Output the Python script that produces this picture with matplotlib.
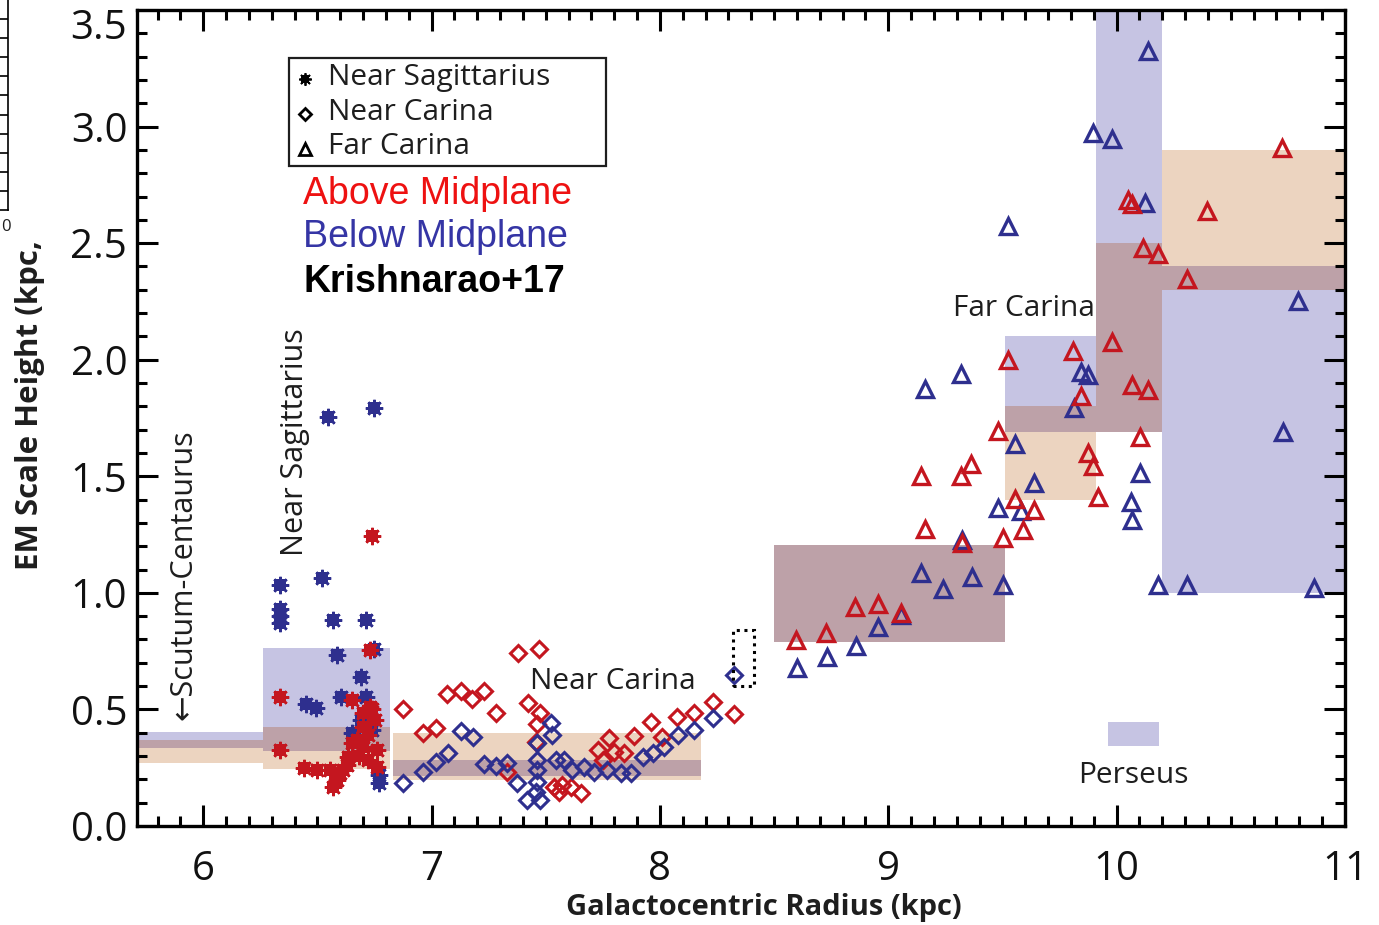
import numpy as np
import matplotlib
matplotlib.use("Agg")
import matplotlib.pyplot as plt
from matplotlib.patches import Rectangle
from matplotlib.ticker import MultipleLocator, FuncFormatter

plt.rcParams['font.family'] = ['Open Sans', 'DejaVu Sans']

# ---------------- data (Galactocentric radius kpc, EM scale height kpc) ----------------
sag_above_r = [6.338, 6.338, 6.737, 6.73, 6.44, 6.50, 6.557, 6.57, 6.588, 6.614, 6.636, 6.653, 6.70,
               6.763, 6.763, 6.73, 6.653, 6.754, 6.70, 6.675, 6.72, 6.60, 6.70, 6.72, 6.68, 6.74, 6.63]
sag_above_h = [0.554, 0.326, 1.245, 0.755, 0.249, 0.240, 0.240, 0.167, 0.197, 0.240, 0.296, 0.356, 0.34,
               0.326, 0.253, 0.511, 0.541, 0.455, 0.425, 0.369, 0.283, 0.227, 0.485, 0.39, 0.30, 0.50, 0.26]
sag_below_r = [6.548, 6.75, 6.338, 6.52, 6.338, 6.338, 6.338, 6.57, 6.715, 6.588, 6.75, 6.69, 6.605,
               6.715, 6.45, 6.496, 6.768, 6.768, 6.69, 6.65, 6.74]
sag_below_h = [1.755, 1.794, 1.034, 1.064, 0.93, 0.90, 0.87, 0.884, 0.884, 0.734, 0.76, 0.64, 0.554,
               0.554, 0.524, 0.506, 0.219, 0.185, 0.455, 0.40, 0.41]

nc_above_r = [6.876, 6.963, 7.018, 7.069, 7.127, 7.178, 7.23, 7.281, 7.379, 7.471, 7.422, 7.475, 7.463,
              7.456, 7.537, 7.572, 7.61, 7.654, 7.557, 7.331, 7.727, 7.778, 7.80, 7.844, 7.887, 7.961,
              8.011, 8.075, 8.148, 8.231, 8.326, 7.75]
nc_above_h = [0.501, 0.398, 0.421, 0.567, 0.581, 0.544, 0.581, 0.486, 0.741, 0.758, 0.529, 0.486, 0.438,
              0.362, 0.169, 0.176, 0.169, 0.143, 0.147, 0.233, 0.326, 0.376, 0.319, 0.312, 0.386, 0.448,
              0.381, 0.467, 0.486, 0.533, 0.481, 0.283]
nc_below_r = [6.876, 6.963, 7.018, 7.072, 7.127, 7.183, 7.23, 7.281, 7.329, 7.375, 7.419, 7.475, 7.456,
              7.463, 7.463, 7.46, 7.463, 7.522, 7.529, 7.544, 7.58, 7.617, 7.668, 7.712, 7.77, 7.829,
              7.873, 7.924, 7.968, 8.016, 8.077, 8.15, 8.231, 8.326]
nc_below_h = [0.183, 0.233, 0.276, 0.312, 0.409, 0.383, 0.266, 0.258, 0.272, 0.186, 0.112, 0.112, 0.147,
              0.19, 0.240, 0.283, 0.355, 0.443, 0.391, 0.283, 0.283, 0.240, 0.254, 0.233, 0.240, 0.226,
              0.226, 0.297, 0.312, 0.337, 0.391, 0.412, 0.462, 0.648]

fc_above_r = [8.596, 8.728, 8.855, 8.955, 9.054, 9.162, 9.323, 9.503, 9.59, 9.64, 9.145, 9.32, 9.364,
              9.48, 9.525, 9.554, 9.81, 9.844, 9.873, 9.898, 9.917, 9.981, 10.066, 10.139, 10.102,
              10.048, 10.066, 10.117, 10.183, 10.307, 10.395, 10.724]
fc_above_h = [0.798, 0.827, 0.941, 0.953, 0.913, 1.273, 1.213, 1.234, 1.27, 1.356, 1.502, 1.502, 1.554,
              1.696, 1.997, 1.401, 2.036, 1.843, 1.60, 1.542, 1.413, 2.074, 1.893, 1.868, 1.668,
              2.687, 2.67, 2.479, 2.455, 2.346, 2.636, 2.909]
fc_below_r = [8.601, 8.731, 8.86, 8.957, 9.057, 9.142, 9.24, 9.367, 9.503, 9.323, 9.159, 9.32, 9.526,
              9.48, 9.58, 9.554, 9.64, 9.814, 9.844, 9.876, 9.898, 9.981, 10.139, 10.124, 10.102,
              10.063, 10.066, 10.183, 10.307, 10.794, 10.727, 10.863]
fc_below_h = [0.677, 0.727, 0.77, 0.855, 0.906, 1.087, 1.015, 1.066, 1.034, 1.227, 1.875, 1.94, 2.575,
              1.363, 1.352, 1.639, 1.47, 1.792, 1.949, 1.936, 2.972, 2.946, 3.323, 2.672, 1.516,
              1.388, 1.313, 1.034, 1.034, 2.25, 1.692, 1.02]

# model ranges per arm section: (r_min, r_max, h_min, h_max)
above_boxes = [(5.6, 6.40, 0.270, 0.369), (6.26, 6.82, 0.245, 0.425), (6.83, 8.18, 0.197, 0.400),
               (8.50, 9.51, 0.790, 1.206), (9.51, 9.91, 1.40, 1.80), (9.91, 10.20, 1.69, 2.50),
               (10.20, 11.1, 2.30, 2.90)]
below_boxes = [(5.6, 6.40, 0.335, 0.403), (6.26, 6.82, 0.322, 0.764), (6.83, 8.18, 0.215, 0.283),
               (8.50, 9.51, 0.790, 1.206), (9.51, 9.91, 1.69, 2.10), (9.91, 10.20, 1.69, 3.60),
               (10.20, 11.1, 1.00, 2.40)]

legend_labels = ['Near Sagittarius', 'Near Carina', 'Far Carina']

RED = '#c4161f'
BLUE = '#2e2f8e'
C_ABOVE = '#ecd4c0'
C_BELOW = '#c6c4e3'
C_BOTH = '#bda1a8'
INK = '#1e1e1e'

W, H = 1379, 925
fig = plt.figure(figsize=(W / 100, H / 100), dpi=100)
ax = fig.add_axes([137 / W, 99 / H, 1208 / W, 816 / H])


def axpos(px, py):
    # pixel position in the picture -> axes fraction
    return (px - 137) / 1208, (826 - py) / 816


for x0, x1, y0, y1 in above_boxes:
    ax.add_patch(Rectangle((x0, y0), x1 - x0, y1 - y0, fc=C_ABOVE, ec='none', zorder=1))
for x0, x1, y0, y1 in below_boxes:
    ax.add_patch(Rectangle((x0, y0), x1 - x0, y1 - y0, fc=C_BELOW, ec='none', zorder=1.1))
# overlap of above / below ranges
for a in above_boxes:
    for b in below_boxes:
        x0, x1 = max(a[0], b[0]), min(a[1], b[1])
        y0, y1 = max(a[2], b[2]), min(a[3], b[3])
        if x1 > x0 and y1 > y0:
            ax.add_patch(Rectangle((x0, y0), x1 - x0, y1 - y0, fc=C_BOTH, ec='none', zorder=1.2))


def sag_marker(r, h, c):
    ax.plot(r, h, ls='none', marker='s', ms=8.5, mew=0, color=c, zorder=3)
    ax.plot(r, h, ls='none', marker=(8, 2, 0), ms=12.5, mew=1.8, color=c, zorder=3)


sag_marker(sag_below_r, sag_below_h, BLUE)
sag_marker(sag_above_r, sag_above_h, RED)
ax.plot(nc_above_r, nc_above_h, ls='none', marker='D', ms=8.5, mew=2.2, mfc='none', mec=RED, zorder=3)
ax.plot(nc_below_r, nc_below_h, ls='none', marker='D', ms=8.5, mew=2.2, mfc='none', mec=BLUE, zorder=3)
ax.plot(fc_below_r, fc_below_h, ls='none', marker='^', ms=11, mew=2.4, mfc='none', mec=BLUE, zorder=3)
ax.plot(fc_above_r, fc_above_h, ls='none', marker='^', ms=11, mew=2.4, mfc='none', mec=RED, zorder=3)

# dotted marker box near 8.35 kpc
ax.add_patch(Rectangle((8.32, 0.60), 0.09, 0.24, fc='none', ec='black', lw=2.2,
                       ls=(0, (1, 1.5)), zorder=4))

# Perseus key
ax.add_patch(Rectangle((9.96, 0.343), 0.224, 0.103, fc=C_BELOW, ec='none', zorder=1))
ax.text(10.075, 0.215, 'Perseus', ha='center', va='center', fontsize=21.5, color=INK)

ax.text(7.794, 0.618, 'Near Carina', ha='center', va='center', fontsize=21.5, color=INK)
ax.text(9.596, 2.219, 'Far Carina', ha='center', va='center', fontsize=21.5, color=INK)
ax.text(6.40, 1.648, 'Near Sagittarius', ha='center', va='center', rotation=90, fontsize=22, color=INK)
ax.text(5.912, 1.08, '\u2190Scutum-Centaurus', ha='center', va='center', rotation=90, fontsize=22,
        color=INK, family=['Open Sans', 'DejaVu Sans'])

ax.text(*axpos(303, 194), 'Above Midplane', transform=ax.transAxes, fontsize=27, color='#ee1111',
        va='center', family=['Liberation Sans', 'DejaVu Sans'])
ax.text(*axpos(303, 237), 'Below Midplane', transform=ax.transAxes, fontsize=27, color='#3535a5',
        va='center', family=['Liberation Sans', 'DejaVu Sans'])
ax.text(*axpos(303, 282), 'Krishnarao+17', transform=ax.transAxes, fontsize=27, color='black',
        va='center', fontweight='bold', family=['Liberation Sans', 'DejaVu Sans'])

# legend box drawn by hand
lx0, ly0 = axpos(289, 166)
lx1, ly1 = axpos(606, 58)
ax.add_patch(Rectangle((lx0, ly0), lx1 - lx0, ly1 - ly0, transform=ax.transAxes, fc='white',
                       ec=INK, lw=1.6, zorder=5))
rows = [77, 112, 147]
kx, _ = axpos(305, 0)
tx, _ = axpos(328, 0)
for i, (lab, py) in enumerate(zip(legend_labels, rows)):
    _, ky = axpos(0, py + 2)
    if i == 0:
        ax.plot([kx], [ky], transform=ax.transAxes, ls='none', marker='s', ms=5.5, mew=0,
                color='black', zorder=6)
        ax.plot([kx], [ky], transform=ax.transAxes, ls='none', marker=(8, 2, 0), ms=9, mew=1.3,
                color='black', zorder=6)
    elif i == 1:
        ax.plot([kx], [ky], transform=ax.transAxes, ls='none', marker='D', ms=6.5, mew=2,
                mfc='none', mec='black', zorder=6)
    else:
        ax.plot([kx], [ky], transform=ax.transAxes, ls='none', marker='^', ms=8, mew=2,
                mfc='none', mec='black', zorder=6)
    ax.text(tx, axpos(0, py)[1], lab, transform=ax.transAxes, fontsize=21.5, color=INK,
            va='center', ha='left', zorder=6)

YMAX = 3.5
ax.set_xlim(5.71, 11.0)
ax.set_ylim(0, YMAX)
ax.xaxis.set_major_locator(MultipleLocator(1))
ax.xaxis.set_minor_locator(MultipleLocator(0.1))
ax.yaxis.set_major_locator(MultipleLocator(0.5))
ax.yaxis.set_minor_locator(MultipleLocator(0.1))
# the top label is written separately, just under the corner, as in the original
ax.yaxis.set_major_formatter(FuncFormatter(lambda v, p: '' if abs(v - YMAX) < 1e-6 else f'{v:.1f}'))
ax.annotate(f'{YMAX:.1f}', xy=(0, YMAX), xycoords=('axes fraction', 'data'), xytext=(-7, 1),
            textcoords='offset points', ha='right', va='top', fontsize=29, color='#111111')
ax.tick_params(which='both', direction='in', top=True, right=True, width=2.2, color='black')
ax.tick_params(which='major', length=15)
ax.tick_params(which='minor', length=7)
ax.tick_params(axis='x', which='major', pad=17, labelsize=29, labelcolor='#111111')
ax.tick_params(axis='y', which='major', pad=7, labelsize=29, labelcolor='#111111')
for s in ax.spines.values():
    s.set_linewidth(2.4)

fig.text(764 / W, 1 - 907 / H, 'Galactocentric Radius (kpc)', ha='center', va='center',
         fontsize=21, fontweight='bold', color=INK)
fig.text(30 / W, 1 - 405 / H, 'EM Scale Height (kpc,', ha='center', va='center', rotation=90,
         fontsize=22.5, fontweight='bold', color=INK)

# remnant of the neighbouring panel at the left edge
ax2 = fig.add_axes([-100 / W, 1 - 210 / H, 108 / W, 210 / H])
ax2.set_xlim(0, 1)
ax2.set_ylim(0, 11)
for side in ['left', 'top']:
    ax2.spines[side].set_visible(False)
ax2.spines['right'].set_linewidth(1.2)
ax2.spines['bottom'].set_linewidth(1.2)
ax2.set_xticks([])
ax2.yaxis.tick_right()
ax2.set_yticks(np.arange(1, 11))
ax2.tick_params(axis='y', direction='in', length=6, width=1.2, labelright=False)
fig.text(6 / W, 1 - 227 / H, '0', ha='center', va='center', fontsize=12, color=INK)

fig.savefig('out.png', dpi=100)
